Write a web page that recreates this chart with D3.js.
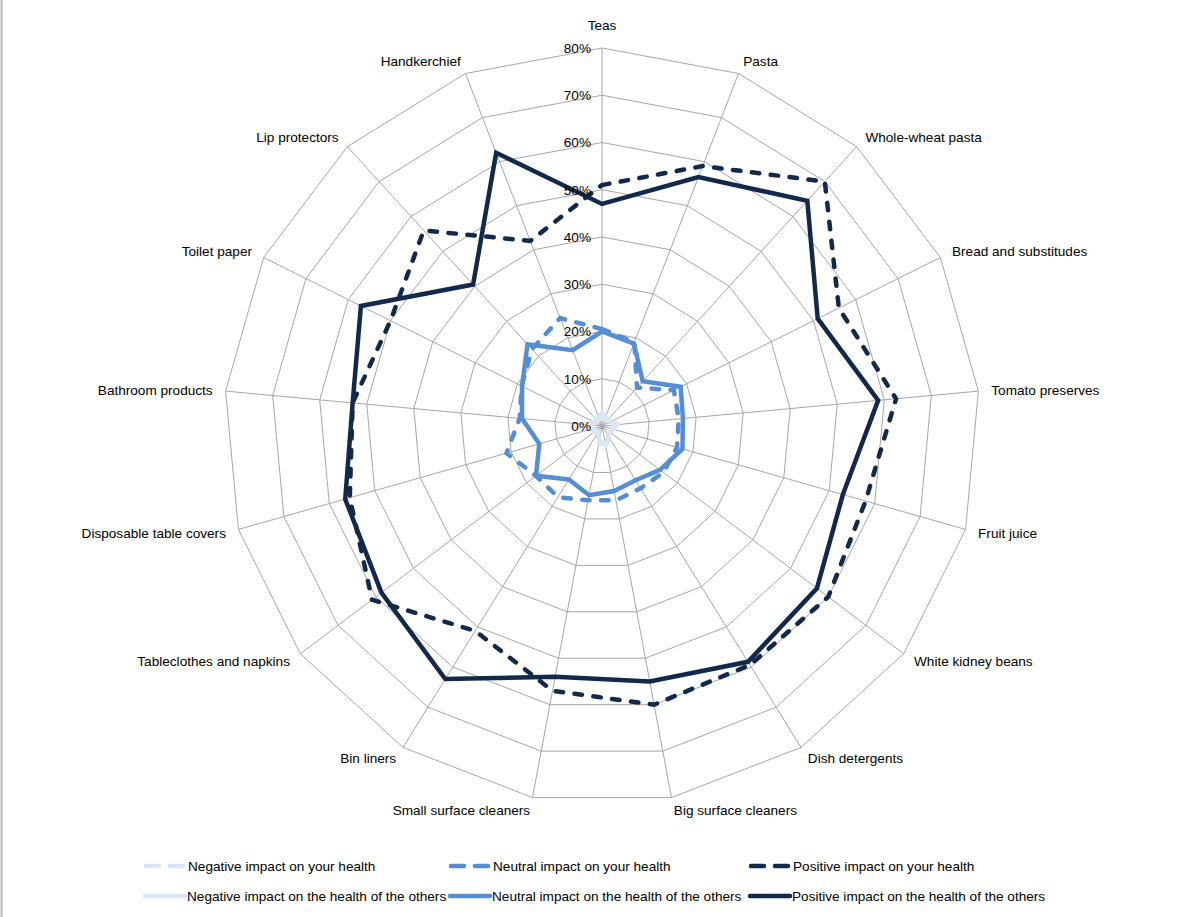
<!DOCTYPE html>
<html>
<head>
<meta charset="utf-8">
<script src="https://cdnjs.cloudflare.com/ajax/libs/d3/7.8.5/d3.min.js"></script>
<style>
  body { margin: 0; background: #fff; }
  svg { display: block; font-family: "Liberation Sans", Arial, sans-serif; }
  .grid { fill: none; stroke: #a6a6a6; stroke-width: 1; }
  .cat { font-size: 13.6px; fill: #000; }
  .tick { font-size: 13.6px; fill: #000; }
  .legend text { font-size: 13.6px; fill: #000; }
  .series { fill: none; stroke-linejoin: miter; }
</style>
</head>
<body>
<div id="chart"></div>
<script>
// chart values (percent)
let categories = ["Teas", "Pasta", "Whole-wheat pasta", "Bread and substitudes", "Tomato preserves",
    "Fruit juice", "White kidney beans", "Dish detergents", "Big surface cleaners", "Small surface cleaners",
    "Bin liners", "Tableclothes and napkins", "Disposable table covers", "Bathroom products",
    "Toilet paper", "Lip protectors", "Handkerchief"];

let negativeYou    = [2.8, 2, 1.5, 2.5, 3.2, 2, 1.5, 3, 4.5, 3, 2, 1.5, 2.5, 3.2, 2, 1.5, 2];
let neutralYou     = [20.5, 19, 11, 17, 16.3, 16.5, 16.3, 15.5, 16, 16, 17.7, 17.5, 21, 17.5, 19, 22, 24.5];
let positiveYou    = [51, 59, 70, 56, 62.5, 58, 60, 59.5, 60, 57, 51, 61, 55.5, 53, 50, 56, 42];
let negativeOthers = [2.2, 1.5, 2, 2, 2.8, 2.5, 2, 2.5, 4.2, 3.5, 1.5, 2, 2.2, 3, 1.5, 2, 1.5];
let neutralOthers  = [20, 18.7, 12.8, 18.6, 17.2, 17.7, 15.4, 13.5, 14, 14.9, 13.3, 17.5, 13.8, 17, 18.9, 23.4, 17.2];
let positiveOthers = [47, 56.5, 64.5, 51, 58.7, 53, 57, 58.7, 55, 54, 63, 58.5, 56.5, 53, 57, 40.5, 62];

let tickValues = [0, 10, 20, 30, 40, 50, 60, 70, 80];

let seriesNames = ["Negative impact on your health", "Neutral impact on your health", "Positive impact on your health",
    "Negative impact on the health of the others", "Neutral impact on the health of the others",
    "Positive impact on the health of the others"];

// styles
let LIGHT = "#dce6f2", MID = "#558ed5", DARK = "#13294b";
let series = [
    {name: seriesNames[0], values: negativeYou, color: LIGHT, dashed: true},
    {name: seriesNames[1], values: neutralYou, color: MID, dashed: true},
    {name: seriesNames[2], values: positiveYou, color: DARK, dashed: true},
    {name: seriesNames[3], values: negativeOthers, color: LIGHT, dashed: false},
    {name: seriesNames[4], values: neutralOthers, color: MID, dashed: false},
    {name: seriesNames[5], values: positiveOthers, color: DARK, dashed: false}
];

let W = 1202, H = 917,
    cx = 602, cy = 426,
    R = 378,
    DASH = "7.5,11.5",
    LW = 4.5;

let svg = d3.select("#chart").append("svg")
    .attr("width", W)
    .attr("height", H);

svg.append("rect").attr("width", W).attr("height", H).attr("fill", "#fff");
// left border line
svg.append("line")
    .attr("x1", 1.5).attr("x2", 1.5).attr("y1", 0).attr("y2", H)
    .attr("stroke", "#b4b4b4").attr("stroke-width", 2);

let r = d3.scaleLinear().domain([0, 80]).range([0, R]);
let angle = d3.scalePoint().domain(categories).range([0, 2 * Math.PI * (1 - 1 / categories.length)]);

function pt(cat, v) {
    let a = angle(cat);
    return [Math.sin(a) * r(v), -Math.cos(a) * r(v)];
}

let g = svg.append("g").attr("transform", "translate(" + cx + "," + cy + ")");

// rings
let grid = g.append("g");
grid.selectAll("path.ring")
    .data(tickValues.filter((d) => d > 0))
    .enter().append("path")
    .attr("class", "grid ring")
    .attr("d", (t) => d3.line()(categories.map((c) => pt(c, t))) + "Z");

// spokes
grid.selectAll("line.spoke")
    .data(categories)
    .enter().append("line")
    .attr("class", "grid spoke")
    .attr("x1", 0).attr("y1", 0)
    .attr("x2", (c) => pt(c, 80)[0])
    .attr("y2", (c) => pt(c, 80)[1]);

// series
let line = d3.line().curve(d3.curveLinearClosed);
g.selectAll("path.series")
    .data(series)
    .enter().append("path")
    .attr("class", "series")
    .attr("d", (s) => line(categories.map((c, i) => pt(c, s.values[i]))))
    .attr("stroke", (s) => s.color)
    .attr("stroke-width", LW)
    .attr("stroke-linecap", (s) => s.dashed ? "round" : "butt")
    .attr("stroke-dasharray", (s) => s.dashed ? DASH : null);

// value labels on the first axis
g.selectAll("text.tick")
    .data(tickValues)
    .enter().append("text")
    .attr("class", "tick")
    .attr("x", -11)
    .attr("y", (t) => -r(t))
    .attr("dy", "0.35em")
    .attr("text-anchor", "end")
    .text((t) => t + "%");

// category labels
let LR = 391;
g.selectAll("text.cat")
    .data(categories)
    .enter().append("text")
    .attr("class", "cat")
    .attr("x", (c) => Math.sin(angle(c)) * LR)
    .attr("y", (c) => -Math.cos(angle(c)) * LR - (angle(c) === 0 ? 10 : 0))
    .attr("dy", "0.35em")
    .attr("text-anchor", function (c) {
        let s = Math.sin(angle(c));
        return Math.abs(s) < 0.01 ? "middle" : (s > 0 ? "start" : "end");
    })
    .text((c) => c);

// legend
let legX = [143, 448, 748], legY = [866, 896];
let leg = svg.append("g").attr("class", "legend")
    .selectAll("g")
    .data(series)
    .enter().append("g")
    .attr("transform", (s, i) => "translate(" + legX[i % 3] + "," + legY[Math.floor(i / 3)] + ")");

leg.append("line")
    .attr("x1", (s) => s.dashed ? 3 : 2)
    .attr("x2", (s) => s.dashed ? 40 : 42)
    .attr("y1", 0).attr("y2", 0)
    .attr("stroke", (s) => s.color)
    .attr("stroke-width", LW)
    .attr("stroke-linecap", "round")
    .attr("stroke-dasharray", (s) => s.dashed ? "13,11" : null);

leg.append("text")
    .attr("x", (s) => s.dashed ? 45 : 44)
    .attr("y", 0)
    .attr("dy", "0.35em")
    .text((s) => s.name);
</script>
</body>
</html>
